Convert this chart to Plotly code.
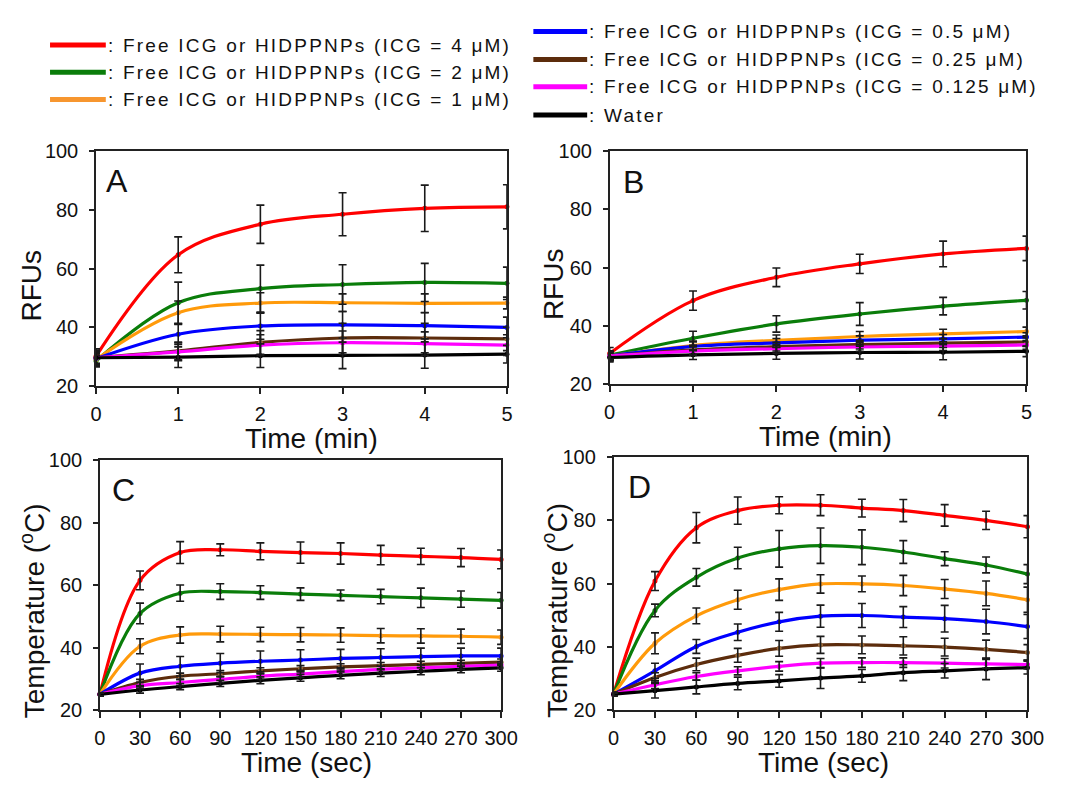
import plotly.graph_objects as go

# ---------------------------------------------------------------- data
time_min = [0, 1, 2, 3, 4, 5]
time_sec = [0, 30, 60, 90, 120, 150, 180, 210, 240, 270, 300]

series_labels = [
    ": Free ICG or HIDPPNPs (ICG = 4 \u03bcM)",
    ": Free ICG or HIDPPNPs (ICG = 2 \u03bcM)",
    ": Free ICG or HIDPPNPs (ICG = 1 \u03bcM)",
    ": Free ICG or HIDPPNPs (ICG = 0.5 \u03bcM)",
    ": Free ICG or HIDPPNPs (ICG = 0.25 \u03bcM)",
    ": Free ICG or HIDPPNPs (ICG = 0.125 \u03bcM)",
    ": Water",
]
series_colors = ["#FF0000", "#0A7D0A", "#FF9A0A", "#0000FF", "#5C2C0C", "#FF00FF", "#000000"]
marker_colors = ["#FF0000", "#0A7D0A", "#F59A2A", "#0000FF", "#9A6A3A", "#FF00FF", "#000000"]
legend_colors = ["#FF0000", "#0A7D0A", "#F7962F", "#0000FF", "#5C2C0C", "#FF00FF", "#000000"]

# Panel A: RFUs vs time (min), free ICG
rfu_a = [
    [30.2, 64.7, 75.1, 78.5, 80.5, 81.0],
    [28.6, 48.4, 53.2, 54.6, 55.3, 55.0],
    [29.1, 45.0, 48.3, 48.4, 48.2, 48.3],
    [29.4, 37.7, 40.5, 40.9, 40.6, 40.0],
    [29.7, 32.0, 34.9, 36.4, 36.4, 36.1],
    [29.7, 31.7, 34.0, 34.8, 34.5, 34.0],
    [29.7, 29.9, 30.4, 30.5, 30.6, 30.9],
]
rfu_a_err = [
    [2.5, 6.1, 6.5, 7.3, 7.9, 7.5],
    [2.0, 7.0, 8.0, 6.7, 6.5, 5.5],
    [2.0, 4.0, 3.5, 3.0, 3.2, 2.0],
    [2.0, 3.5, 4.5, 4.5, 4.5, 3.5],
    [2.0, 3.0, 4.0, 5.0, 5.0, 4.0],
    [2.0, 3.0, 3.5, 4.0, 4.0, 3.5],
    [2.5, 3.5, 4.0, 4.5, 4.5, 3.0],
]

# Panel B: RFUs vs time (min), HIDPPNPs
rfu_b = [
    [30.6, 48.7, 56.7, 61.3, 64.7, 66.6],
    [30.0, 35.8, 40.7, 44.1, 46.8, 48.8],
    [29.7, 33.3, 35.1, 36.4, 37.3, 38.1],
    [29.7, 33.0, 34.2, 35.1, 35.6, 36.2],
    [29.7, 31.8, 32.9, 33.6, 34.1, 34.5],
    [29.7, 31.4, 32.2, 32.8, 33.1, 33.5],
    [29.2, 30.1, 30.6, 30.9, 31.0, 31.3],
]
rfu_b_err = [
    [2.0, 3.3, 3.2, 3.3, 4.4, 4.2],
    [1.5, 2.4, 2.8, 3.9, 3.0, 3.0],
    [1.5, 1.5, 1.8, 1.7, 1.6, 1.5],
    [1.5, 1.5, 1.5, 1.5, 1.5, 1.5],
    [1.5, 1.5, 1.5, 1.5, 1.5, 1.5],
    [1.5, 1.5, 1.5, 1.5, 1.5, 1.5],
    [1.5, 1.6, 2.0, 2.2, 2.6, 1.8],
]

# Panel C: temperature vs time (sec), free ICG
temp_c = [
    [25.0, 61.5, 70.4, 71.3, 70.8, 70.4, 70.1, 69.6, 69.2, 68.8, 68.2],
    [25.0, 50.9, 57.4, 57.9, 57.6, 57.1, 56.7, 56.3, 55.9, 55.5, 55.1],
    [25.0, 40.4, 44.0, 44.3, 44.2, 44.1, 44.0, 43.8, 43.7, 43.6, 43.3],
    [25.0, 31.8, 34.0, 35.0, 35.6, 36.0, 36.5, 36.8, 37.1, 37.3, 37.3],
    [25.0, 28.8, 30.8, 31.6, 32.5, 33.2, 33.8, 34.2, 34.6, 34.9, 35.3],
    [25.0, 27.8, 28.8, 29.8, 30.8, 31.5, 32.3, 33.0, 33.5, 34.0, 34.4],
    [25.0, 26.4, 27.5, 28.5, 29.5, 30.3, 31.1, 31.8, 32.4, 33.0, 33.5],
]
temp_c_err = [
    [0.5, 3.0, 3.5, 1.9, 2.7, 3.4, 3.4, 3.1, 2.6, 2.9, 3.0],
    [0.5, 3.3, 2.6, 2.5, 2.2, 2.0, 1.7, 2.3, 3.1, 2.6, 2.5],
    [0.5, 2.4, 2.6, 2.5, 2.3, 2.3, 2.3, 2.3, 2.3, 2.3, 2.3],
    [0.5, 2.9, 3.1, 3.1, 3.3, 3.3, 2.9, 2.8, 2.7, 2.5, 2.5],
    [0.5, 1.0, 1.0, 1.0, 1.0, 1.0, 1.0, 1.0, 1.0, 1.0, 1.0],
    [0.5, 1.0, 1.0, 1.0, 1.0, 1.0, 1.0, 1.0, 1.0, 1.0, 1.0],
    [0.5, 1.0, 1.0, 1.0, 1.1, 1.1, 1.1, 1.1, 1.1, 1.1, 1.1],
]

# Panel D: temperature vs time (sec), HIDPPNPs
temp_d = [
    [25.0, 60.8, 77.7, 83.1, 84.8, 84.8, 83.9, 83.1, 81.6, 80.0, 78.0],
    [25.0, 51.5, 62.0, 68.1, 71.0, 72.0, 71.5, 70.0, 67.9, 65.9, 63.0],
    [25.0, 41.1, 49.8, 54.9, 58.1, 59.9, 59.9, 59.4, 58.3, 56.9, 54.9],
    [25.0, 32.4, 40.1, 44.6, 47.9, 49.7, 49.9, 49.4, 48.9, 48.0, 46.4],
    [25.0, 30.3, 34.4, 37.3, 39.5, 40.6, 40.6, 40.3, 39.9, 39.2, 38.2],
    [25.0, 28.0, 30.6, 32.4, 33.8, 34.8, 35.0, 35.0, 34.8, 34.6, 34.4],
    [25.0, 26.1, 27.3, 28.4, 29.2, 30.1, 30.8, 31.8, 32.4, 33.0, 33.4],
]
temp_d_err = [
    [0.5, 3.0, 4.8, 4.3, 2.7, 3.3, 2.8, 3.5, 3.4, 2.9, 3.5],
    [0.5, 2.0, 2.8, 3.4, 5.8, 5.6, 5.5, 3.6, 2.2, 2.5, 3.0],
    [0.5, 3.3, 2.5, 3.0, 3.4, 2.9, 2.5, 3.2, 3.0, 3.9, 4.0],
    [0.5, 2.4, 2.2, 2.6, 3.0, 3.5, 3.8, 3.3, 4.2, 3.9, 3.8],
    [0.5, 1.5, 2.0, 2.2, 2.5, 2.7, 2.8, 2.9, 2.8, 2.9, 2.5],
    [0.5, 1.2, 1.2, 1.3, 1.5, 1.5, 1.5, 1.5, 1.5, 1.4, 1.4],
    [0.5, 2.3, 2.2, 2.0, 2.0, 3.3, 2.0, 2.5, 2.3, 3.4, 2.0],
]

y_ticks = [20, 40, 60, 80, 100]
min_ticks = [0, 1, 2, 3, 4, 5]
sec_ticks = [0, 30, 60, 90, 120, 150, 180, 210, 240, 270, 300]

# ---------------------------------------------------------------- layout helpers
W, H = 1065, 790
FONT = "Liberation Sans, Arial, sans-serif"


def px_x(x):
    return x / W


def px_y(y):
    return 1 - y / H


# plot rectangles in pixels: left, right, top, bottom
panels = [
    dict(box=(92, 512, 144, 386), x=time_min, xt=min_ticks, xr=[0, 5], ys=rfu_a, es=rfu_a_err, letter="A",
         lp=(113, 175), xtitle="Time (min)", xtp=(312, 440), ytitle="RFUs", ytp=(26, 282)),
    dict(box=(617, 1043, 144, 384), x=time_min, xt=min_ticks, xr=[0, 5], ys=rfu_b, es=rfu_b_err, letter="B",
         lp=(641, 176), xtitle="Time (min)", xtp=(838, 438), ytitle="RFUs", ytp=(559, 281)),
    dict(box=(96, 506, 462, 719), x=time_sec, xt=sec_ticks, xr=[0, 300], ys=temp_c, es=temp_c_err, letter="C",
         lp=(120, 493), xtitle="Time (sec)", xtp=(307, 773), ytitle="Temperature (<sup>o</sup>C)", ytp=(27, 617)),
    dict(box=(621, 1044, 459, 719), x=time_sec, xt=sec_ticks, xr=[0, 300], ys=temp_d, es=temp_d_err, letter="D",
         lp=(647, 490), xtitle="Time (sec)", xtp=(836, 773), ytitle="Temperature (<sup>o</sup>C)", ytp=(561, 616)),
]

fig = go.Figure()
annotations = []
shapes = []
layout_axes = {}

for i, p in enumerate(panels):
    n = "" if i == 0 else str(i + 1)
    xa, ya = "x" + n, "y" + n
    l, r, t, b = p["box"]
    layout_axes["xaxis" + n] = dict(
        domain=[px_x(l), px_x(r)], anchor=ya, range=p["xr"], tickvals=p["xt"],
        ticks="outside", ticklen=6, tickwidth=1.5, tickcolor="#222",
        showline=True, linecolor="#222", linewidth=1.5, mirror=True,
        showgrid=False, zeroline=False, fixedrange=True,
        tickfont=dict(family=FONT, size=20, color="#111"), ticklabelstandoff=3,
    )
    layout_axes["yaxis" + n] = dict(
        domain=[px_y(b), px_y(t)], anchor=xa, range=[20, 100], tickvals=y_ticks,
        ticks="outside", ticklen=5, tickwidth=1.5, tickcolor="#222",
        showline=True, linecolor="#222", linewidth=1.5, mirror=True,
        showgrid=False, zeroline=False, fixedrange=True,
        tickfont=dict(family=FONT, size=20, color="#111"), ticklabelstandoff=7,
    )
    # curves
    for k, ys in enumerate(p["ys"]):
        fig.add_trace(go.Scatter(
            x=p["x"], y=ys, xaxis=xa, yaxis=ya, mode="lines+markers",
            line=dict(color=series_colors[k], width=3.2, shape="spline", smoothing=1.0),
            marker=dict(color=marker_colors[k], size=5),
            showlegend=False, cliponaxis=False, hoverinfo="skip",
        ))
    # error bars drawn above all curves
    for k, ys in enumerate(p["ys"]):
        fig.add_trace(go.Scatter(
            x=p["x"], y=ys, xaxis=xa, yaxis=ya, mode="markers",
            marker=dict(color="rgba(0,0,0,0)", size=1),
            error_y=dict(type="data", array=p["es"][k], color="#1a1a1a", thickness=1.6, width=4),
            showlegend=False, cliponaxis=False, hoverinfo="skip",
        ))
    annotations.append(dict(text=p["letter"], x=px_x(p["lp"][0]), y=px_y(p["lp"][1]), xref="paper", yref="paper",
                            showarrow=False, xanchor="center", yanchor="middle",
                            font=dict(family=FONT, size=32, color="#111")))
    annotations.append(dict(text=p["xtitle"], x=px_x(p["xtp"][0]), y=px_y(p["xtp"][1]), xref="paper", yref="paper",
                            showarrow=False, xanchor="center", yanchor="middle",
                            font=dict(family=FONT, size=28, color="#111")))
    annotations.append(dict(text=p["ytitle"], x=px_x(p["ytp"][0]), y=px_y(p["ytp"][1]), xref="paper", yref="paper",
                            showarrow=False, xanchor="center", yanchor="middle", textangle=-90,
                            font=dict(family=FONT, size=28, color="#111")))

# legend: two columns of line swatches with labels
legend_rows = [(45, 102, 35), (45, 102, 63), (45, 102, 91),
               (539, 594, 21), (539, 594, 50), (539, 594, 78), (539, 594, 107)]
for k, (x0, x1, yy) in enumerate(legend_rows):
    shapes.append(dict(type="line", xref="paper", yref="paper", x0=px_x(x0), x1=px_x(x1),
                       y0=px_y(yy), y1=px_y(yy), line=dict(color=legend_colors[k], width=5)))
    annotations.append(dict(text='<span style="letter-spacing:2.2px">' + series_labels[k] + "</span>",
                            x=px_x(x1), y=px_y(yy), xref="paper", yref="paper", showarrow=False,
                            xanchor="left", yanchor="middle",
                            font=dict(family=FONT, size=19, color="#111")))

fig.update_layout(
    width=W, height=H, margin=dict(l=0, r=0, t=0, b=0),
    paper_bgcolor="white", plot_bgcolor="white",
    showlegend=False, annotations=annotations, shapes=shapes,
    **layout_axes,
)

fig.write_html("out.html")
